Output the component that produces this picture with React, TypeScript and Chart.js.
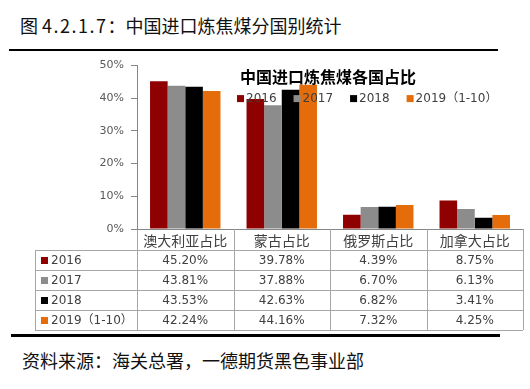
import React, { useEffect, useRef } from "react";
import { Chart, registerables } from "chart.js";

Chart.register(...registerables);

const figureTitlePrefix = "图 ";
const figureTitleNumber = "4.2.1.7";
const figureTitleText = "：中国进口炼焦煤分国别统计";
const sourceNote = "资料来源：海关总署，一德期货黑色事业部";
const chartTitle = "中国进口炼焦煤各国占比";
const categories = ["澳大利亚占比", "蒙古占比", "俄罗斯占比", "加拿大占比"];
const seriesLabels = ["2016", "2017", "2018", "2019（1-10）"];
const values2016 = [45.2, 39.78, 4.39, 8.75];
const values2017 = [43.81, 37.88, 6.7, 6.13];
const values2018 = [43.53, 42.63, 6.82, 3.41];
const values2019 = [42.24, 44.16, 7.32, 4.25];
const seriesColors = ["#8f0000", "#8c8c8c", "#000000", "#e46c0a"];
const yMin = 0;
const yMax = 50;
const yStep = 10;

const CJK = "'Noto Sans CJK SC', 'Noto Sans', sans-serif";
const NUM = "'DejaVu Sans', 'Noto Sans CJK SC', sans-serif";

const seriesValues = [values2016, values2017, values2018, values2019];

const overlayPlugin = {
  id: "overlay",
  afterDatasetsDraw(chart: any) {
    const ctx = chart.ctx;
    const area = chart.chartArea;
    ctx.save();
    ctx.fillStyle = "#000";
    ctx.font = `bold 16px ${CJK}`;
    ctx.textBaseline = "middle";
    ctx.textAlign = "left";
    ctx.fillText(chartTitle, 240, area.top + 11);
    ctx.font = `12px ${NUM}`;
    let lx = 237;
    const ly = area.top + 33;
    seriesLabels.forEach((lab, i) => {
      ctx.fillStyle = seriesColors[i];
      ctx.fillRect(lx, ly - 3.5, 7, 7);
      ctx.fillStyle = "#404040";
      ctx.fillText(lab, lx + 9, ly);
      lx += 9 + ctx.measureText(lab).width + 17;
    });
    ctx.restore();
  },
  afterDraw(chart: any) {
    const ctx = chart.ctx;
    const xs = chart.scales.x;
    const area = chart.chartArea;
    const n = categories.length;
    const bounds: number[] = [area.left];
    for (let i = 0; i < n - 1; i++) {
      bounds.push((xs.getPixelForValue(i) + xs.getPixelForValue(i + 1)) / 2);
    }
    bounds.push(area.right);
    const rowTop = area.bottom + 21;
    const rowH = 20;
    const tableLeft = 35;
    const rows = seriesLabels.length;
    const tableBottom = rowTop + rows * rowH;
    ctx.save();
    ctx.strokeStyle = "#a6a6a6";
    ctx.lineWidth = 1;
    const line = (x1: number, y1: number, x2: number, y2: number) => {
      ctx.beginPath();
      ctx.moveTo(x1, y1);
      ctx.lineTo(x2, y2);
      ctx.stroke();
    };
    for (let r = 0; r <= rows; r++) {
      const y = Math.round(rowTop + r * rowH) + 0.5;
      line(tableLeft, y, area.right, y);
    }
    bounds.forEach((b, i) => {
      const bx = Math.round(b) + 0.5;
      line(bx, i === 0 ? area.bottom + 1 : area.bottom, bx, tableBottom);
    });
    line(tableLeft + 0.5, rowTop, tableLeft + 0.5, tableBottom);
    ctx.textBaseline = "middle";
    ctx.font = `12px ${NUM}`;
    for (let r = 0; r < rows; r++) {
      const cy = rowTop + r * rowH + rowH / 2 + 0.5;
      ctx.fillStyle = seriesColors[r];
      ctx.fillRect(41, cy - 3.5, 7, 7);
      ctx.fillStyle = "#404040";
      ctx.textAlign = "left";
      ctx.fillText(seriesLabels[r], 51, cy);
      ctx.textAlign = "center";
      for (let c = 0; c < n; c++) {
        ctx.fillText(seriesValues[r][c].toFixed(2) + "%", xs.getPixelForValue(c), cy);
      }
    }
    ctx.restore();
  },
};

function ChartCanvas() {
  const ref = useRef<HTMLCanvasElement | null>(null);
  useEffect(() => {
    if (!ref.current) return;
    const chart = new Chart(ref.current, {
      type: "bar",
      data: {
        labels: categories,
        datasets: seriesLabels.map((lab, i) => ({
          label: lab,
          data: seriesValues[i],
          backgroundColor: seriesColors[i],
          borderWidth: 0,
          categoryPercentage: 0.73,
          barPercentage: 1.0,
        })),
      },
      options: {
        animation: false,
        responsive: false,
        maintainAspectRatio: false,
        layout: { padding: { top: 8, right: 7, left: 0, bottom: 0 } },
        plugins: {
          legend: { display: false },
          tooltip: { enabled: false },
          title: { display: false },
        },
        scales: {
          x: {
            grid: { display: false, drawTicks: false },
            border: { display: true, color: "#868686" },
            ticks: {
              font: { family: CJK, size: 14 },
              color: "#404040",
              padding: 3,
              maxRotation: 0,
              autoSkip: false,
            },
            afterFit: (s: any) => {
              s.height = 103;
            },
          },
          y: {
            min: yMin,
            max: yMax,
            ticks: {
              stepSize: yStep,
              callback: (v: any) => v + "%",
              font: { family: NUM, size: 11 },
              color: "#595959",
              padding: 7,
            },
            grid: {
              drawOnChartArea: false,
              drawTicks: true,
              tickLength: 6,
              color: "#868686",
            },
            border: { display: true, color: "#868686" },
            afterFit: (s: any) => {
              s.width = 137;
            },
          },
        },
      },
      plugins: [overlayPlugin],
    } as any);
    return () => chart.destroy();
  }, []);
  return (
    <canvas
      ref={ref}
      width={530}
      height={280}
      style={{ position: "absolute", left: 0, top: 52, width: 530, height: 280 }}
    />
  );
}

export default function App() {
  return (
    <div
      style={{
        position: "fixed",
        left: 0,
        top: 0,
        width: 530,
        height: 389,
        background: "#fff",
        overflow: "hidden",
      }}
    >
      <div
        style={{
          position: "absolute",
          left: 20,
          top: 16,
          fontFamily: CJK,
          fontSize: 18,
          lineHeight: "18px",
          color: "#111",
          whiteSpace: "nowrap",
        }}
      >
        {figureTitlePrefix}
        <span style={{ letterSpacing: "1.5px" }}>{figureTitleNumber}</span>
        {figureTitleText}
      </div>
      <div style={{ position: "absolute", left: 9, top: 49, width: 489, height: 2, background: "#000" }} />
      <ChartCanvas />
      <div style={{ position: "absolute", left: 11, top: 334, width: 489, height: 3, background: "#000" }} />
      <div
        style={{
          position: "absolute",
          left: 22,
          top: 351,
          fontFamily: CJK,
          fontSize: 18,
          lineHeight: "18px",
          color: "#111",
          whiteSpace: "nowrap",
        }}
      >
        {sourceNote}
      </div>
    </div>
  );
}
